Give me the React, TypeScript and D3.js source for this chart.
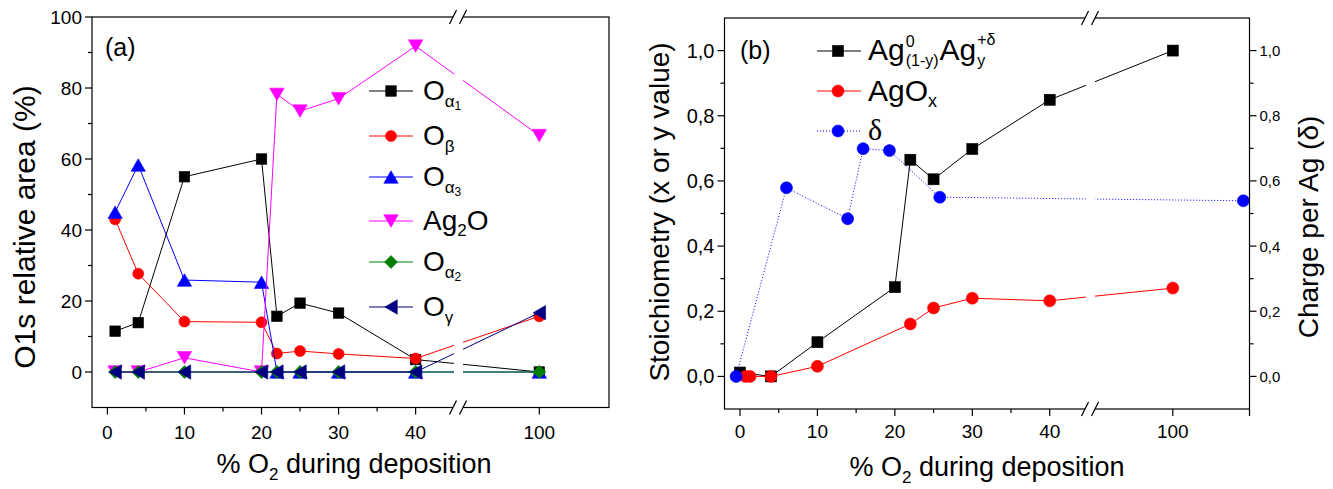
import React from "react";
import * as d3 from "d3";

const W = 1333;
const H = 489;
const FONT = "'Liberation Sans', Arial, Helvetica, sans-serif";
const SERIF = "'Liberation Serif', 'Times New Roman', serif";

// ---------- Panel (a) data ----------
const xA = [1, 4, 10, 20, 22, 25, 30, 40, 100];
const oAlpha1 = [11.5, 13.9, 55, 60, 15.7, 19.4, 16.6, 3.5, 0];
const oBeta = [43, 27.7, 14.2, 14, 5.2, 5.9, 5.1, 3.8, 15.7];
const oAlpha3 = [45, 58.3, 25.9, 25.3, 0, 0, 0, 0, 0];
const ag2o = [0, 0, 4, 0, 78.2, 73.5, 77, 91.8, 66.6];
const oAlpha2 = [0, 0, 0, 0, 0, 0, 0, 0, 0];
const oGamma = [0, 0, 0, 0, 0, 0, 0, 0, 16.7];

const aYMajor = [0, 20, 40, 60, 80, 100];
const aYMinor = [10, 30, 50, 70, 90];
const aXMajor = [0, 10, 20, 30, 40, 100];
const aXMinor = [5, 15, 25, 35];

// ---------- Panel (b) data ----------
const xStoich = [0, 4, 10, 20, 22, 25, 30, 40, 100];
const stoichY = [0.012, 0, 0.105, 0.274, 0.665, 0.605, 0.698, 0.849, 1.0];
const xAgOx = [0.7, 1.3, 4, 10, 22, 25, 30, 40, 100];
const agOxX = [0, 0, 0, 0.031, 0.161, 0.21, 0.24, 0.232, 0.271];
const xDelta = [-0.5, 6, 13.9, 15.9, 19.3, 25.8, 109.2];
const deltaY = [0, 0.579, 0.484, 0.699, 0.693, 0.55, 0.539];

const bYMajor = [0, 0.2, 0.4, 0.6, 0.8, 1.0];
const bYMinor = [0.1, 0.3, 0.5, 0.7, 0.9];
const bXMajor = [0, 10, 20, 30, 40, 100, 110];
const bXLabels = ["0", "10", "20", "30", "40", "100", ""];
const bXMinor = [5, 15, 25, 35];

// axis ranges (segments split by the axis break)
const xDomA = [-2, 45.5, 89.5, 109];
const yDomA = [-10, 100];
const xDomB = [-2, 45.2, 89.2, 110];
const yDomB = [-0.1, 1.1];

const geoA = { left: 92, right: 609, top: 17, bottom: 407.5, bx: 458 };
const geoB = { left: 724.5, right: 1249.5, top: 18, bottom: 409, bx: 1090 };

const xA_s = d3.scaleLinear().domain(xDomA).range([geoA.left, geoA.bx, geoA.bx, geoA.right]);
const yA_s = d3.scaleLinear().domain(yDomA).range([geoA.bottom, geoA.top]);
const xB_s = d3.scaleLinear().domain(xDomB).range([geoB.left, geoB.bx, geoB.bx, geoB.right]);
const yB_s = d3.scaleLinear().domain(yDomB).range([geoB.bottom, geoB.top]);

let _ctx: CanvasRenderingContext2D | null = null;
function measure(text: string, size: number, family = FONT) {
  if (!_ctx) _ctx = document.createElement("canvas").getContext("2d");
  if (!_ctx) return text.length * size * 0.55;
  _ctx.font = `${size}px ${family}`;
  return _ctx.measureText(text).width;
}

type Shape = "square" | "circle" | "triUp" | "triDown" | "triLeft" | "diamond";

function Marker({ shape, x, y, color, size }: { shape: Shape; x: number; y: number; color: string; size: number }) {
  const s = size;
  const common = { fill: color, stroke: color, strokeWidth: 0.6 };
  switch (shape) {
    case "square":
      return <rect x={x - s / 2} y={y - s / 2} width={s} height={s} {...common} />;
    case "circle":
      return <circle cx={x} cy={y} r={s / 2} {...common} />;
    case "triUp": {
      const w = s * 1.15, h = s;
      return <polygon points={`${x},${y - h / 2} ${x + w / 2},${y + h / 2} ${x - w / 2},${y + h / 2}`} {...common} />;
    }
    case "triDown": {
      const w = s * 1.15, h = s;
      return <polygon points={`${x - w / 2},${y - h / 2} ${x + w / 2},${y - h / 2} ${x},${y + h / 2}`} {...common} />;
    }
    case "triLeft": {
      const w = s, h = s * 1.15;
      return <polygon points={`${x - w / 2},${y} ${x + w / 2},${y - h / 2} ${x + w / 2},${y + h / 2}`} {...common} />;
    }
    case "diamond": {
      const d = s / 2;
      return <polygon points={`${x},${y - d} ${x + d},${y} ${x},${y + d} ${x - d},${y}`} {...common} />;
    }
  }
  return null;
}

type Series = { xs: number[]; ys: number[]; color: string; shape: Shape; size: number; dash?: string };

function SeriesG({ s, xs, ys, clip }: { s: Series; xs: any; ys: any; clip: string }) {
  const pts: [number, number][] = s.xs.map((x, i) => [xs(x), ys(s.ys[i])]);
  const path = d3.line()(pts) || "";
  return (
    <g>
      <path d={path} fill="none" stroke={s.color} strokeWidth={1} strokeDasharray={s.dash} clipPath={`url(#${clip})`} />
      {pts.map((p, i) => (
        <Marker key={i} shape={s.shape} x={p[0]} y={p[1]} color={s.color} size={s.size} />
      ))}
    </g>
  );
}

function BreakMarks({ x, y }: { x: number; y: number }) {
  return (
    <g>
      <rect x={x - 5} y={y - 2} width={10} height={4} fill="white" />
      <line x1={x - 5 - 3.5} y1={y + 7} x2={x - 5 + 3.5} y2={y - 7} stroke="black" strokeWidth={1.2} />
      <line x1={x + 5 - 3.5} y1={y + 7} x2={x + 5 + 3.5} y2={y - 7} stroke="black" strokeWidth={1.2} />
    </g>
  );
}

function ClipDef({ id, g }: { id: string; g: typeof geoA }) {
  return (
    <clipPath id={id}>
      <rect x={g.left} y={0} width={g.bx - 4 - g.left} height={H} />
      <rect x={g.bx + 5} y={0} width={g.right - g.bx - 5} height={H} />
    </clipPath>
  );
}

const MAJ = 7;
const MIN = 4;

function LegendRowA({ y, color, shape, size, children }: any) {
  return (
    <g>
      <line x1={369} x2={413} y1={y} y2={y} stroke={color} strokeWidth={1} />
      <Marker shape={shape} x={391} y={y} color={color} size={size} />
      <text x={423} y={y + 9} fontSize={28} fontFamily={FONT} fill="black">
        {children}
      </text>
    </g>
  );
}

export default function App() {
  const seriesA: Series[] = [
    { xs: xA, ys: oAlpha1, color: "#000000", shape: "square", size: 10.5 },
    { xs: xA, ys: oBeta, color: "#ff0000", shape: "circle", size: 11 },
    { xs: xA, ys: oAlpha3, color: "#0000ff", shape: "triUp", size: 12.5 },
    { xs: xA, ys: ag2o, color: "#ff00ff", shape: "triDown", size: 12.5 },
    { xs: xA, ys: oAlpha2, color: "#008000", shape: "diamond", size: 13 },
    { xs: xA, ys: oGamma, color: "#000080", shape: "triLeft", size: 12.5 },
  ];
  const seriesB: Series[] = [
    { xs: xStoich, ys: stoichY, color: "#000000", shape: "square", size: 11 },
    { xs: xAgOx, ys: agOxX, color: "#ff0000", shape: "circle", size: 12 },
    { xs: xDelta, ys: deltaY, color: "#0000ff", shape: "circle", size: 12, dash: "1,2" },
  ];

  const fmtB = (v: number) => d3.format(".1f")(v).replace(".", ",");

  // Legend (b) row 1 layout
  const lx = 868;
  const lb1 = 60;
  const bigF = 30;
  const smallF = 16;
  const wAg = measure("Ag", bigF);
  const w0 = measure("0", smallF);
  const wSub1 = measure("(1-y)", smallF);
  const x2 = lx + wAg + 1 + Math.max(w0, wSub1) + 1;
  const wAg2 = measure("Ag", bigF);
  const x3 = x2 + wAg2 + 1;

  return (
    <svg width={W} height={H} style={{ position: "absolute", left: 0, top: 0, background: "white" }} fontFamily={FONT}>
      <defs>
        <ClipDef id="clipA" g={geoA} />
        <ClipDef id="clipB" g={geoB} />
      </defs>
      <rect x={0} y={0} width={W} height={H} fill="white" />

      {/* ================= Panel (a) ================= */}
      <g>
        {seriesA.map((s, i) => (
          <SeriesG key={i} s={s} xs={xA_s} ys={yA_s} clip="clipA" />
        ))}
        <rect x={geoA.left} y={geoA.top} width={geoA.right - geoA.left} height={geoA.bottom - geoA.top} fill="none" stroke="black" strokeWidth={1.2} />
        <BreakMarks x={geoA.bx} y={geoA.top} />
        <BreakMarks x={geoA.bx} y={geoA.bottom} />
        {aYMajor.map((v) => (
          <g key={v}>
            <line x1={geoA.left - MAJ} x2={geoA.left} y1={yA_s(v)} y2={yA_s(v)} stroke="black" strokeWidth={1.2} />
            <text x={geoA.left - 10} y={yA_s(v) + 7} textAnchor="end" fontSize={19}>{v}</text>
          </g>
        ))}
        {aYMinor.map((v) => (
          <line key={v} x1={geoA.left - MIN} x2={geoA.left} y1={yA_s(v)} y2={yA_s(v)} stroke="black" strokeWidth={1.2} />
        ))}
        {aXMajor.map((v) => (
          <g key={v}>
            <line x1={xA_s(v)} x2={xA_s(v)} y1={geoA.bottom} y2={geoA.bottom + MAJ} stroke="black" strokeWidth={1.2} />
            <text x={xA_s(v)} y={439} textAnchor="middle" fontSize={19}>{v}</text>
          </g>
        ))}
        {aXMinor.map((v) => (
          <line key={v} x1={xA_s(v)} x2={xA_s(v)} y1={geoA.bottom} y2={geoA.bottom + MIN} stroke="black" strokeWidth={1.2} />
        ))}
        <text x={354} y={473} textAnchor="middle" fontSize={27}>
          % O<tspan fontSize={17} dy={7}>2</tspan>
          <tspan dy={-7}> during deposition</tspan>
        </text>
        <text transform={`translate(35,227) rotate(-90)`} textAnchor="middle" fontSize={30}>
          O1s relative area (%)
        </text>
        <text x={105} y={56} fontSize={25}>(a)</text>

        <LegendRowA y={91} color="#000000" shape="square" size={10.5}>
          O<tspan fontSize={17} dy={7}>α</tspan><tspan fontSize={12} dy={3}>1</tspan>
        </LegendRowA>
        <LegendRowA y={136} color="#ff0000" shape="circle" size={11}>
          O<tspan fontSize={17} dy={7}>β</tspan>
        </LegendRowA>
        <LegendRowA y={177} color="#0000ff" shape="triUp" size={12.5}>
          O<tspan fontSize={17} dy={7}>α</tspan><tspan fontSize={12} dy={3}>3</tspan>
        </LegendRowA>
        <LegendRowA y={221} color="#ff00ff" shape="triDown" size={12.5}>
          Ag<tspan fontSize={17} dy={6}>2</tspan><tspan dy={-6}>O</tspan>
        </LegendRowA>
        <LegendRowA y={262} color="#008000" shape="diamond" size={13}>
          O<tspan fontSize={17} dy={7}>α</tspan><tspan fontSize={12} dy={3}>2</tspan>
        </LegendRowA>
        <LegendRowA y={307} color="#000080" shape="triLeft" size={12.5}>
          O<tspan fontSize={17} dy={7}>γ</tspan>
        </LegendRowA>
      </g>

      {/* ================= Panel (b) ================= */}
      <g>
        {seriesB.map((s, i) => (
          <SeriesG key={i} s={s} xs={xB_s} ys={yB_s} clip="clipB" />
        ))}
        <rect x={geoB.left} y={geoB.top} width={geoB.right - geoB.left} height={geoB.bottom - geoB.top} fill="none" stroke="black" strokeWidth={1.2} />
        <BreakMarks x={geoB.bx} y={geoB.top} />
        <BreakMarks x={geoB.bx} y={geoB.bottom} />
        {bYMajor.map((v) => (
          <g key={v}>
            <line x1={geoB.left - MAJ} x2={geoB.left} y1={yB_s(v)} y2={yB_s(v)} stroke="black" strokeWidth={1.2} />
            <text x={geoB.left - 10} y={yB_s(v) + 7} textAnchor="end" fontSize={20}>{fmtB(v)}</text>
            <line x1={geoB.right} x2={geoB.right + MAJ} y1={yB_s(v)} y2={yB_s(v)} stroke="black" strokeWidth={1.2} />
            <text x={geoB.right + 10} y={yB_s(v) + 5.5} textAnchor="start" fontSize={15}>{fmtB(v)}</text>
          </g>
        ))}
        {bYMinor.map((v) => (
          <g key={v}>
            <line x1={geoB.left - MIN} x2={geoB.left} y1={yB_s(v)} y2={yB_s(v)} stroke="black" strokeWidth={1.2} />
            <line x1={geoB.right} x2={geoB.right + MIN} y1={yB_s(v)} y2={yB_s(v)} stroke="black" strokeWidth={1.2} />
          </g>
        ))}
        {bXMajor.map((v, i) => (
          <g key={v}>
            <line x1={xB_s(v)} x2={xB_s(v)} y1={geoB.bottom} y2={geoB.bottom + MAJ} stroke="black" strokeWidth={1.2} />
            <text x={xB_s(v)} y={438} textAnchor="middle" fontSize={19}>{bXLabels[i]}</text>
          </g>
        ))}
        {bXMinor.map((v) => (
          <line key={v} x1={xB_s(v)} x2={xB_s(v)} y1={geoB.bottom} y2={geoB.bottom + MIN} stroke="black" strokeWidth={1.2} />
        ))}
        <text x={987} y={476} textAnchor="middle" fontSize={27}>
          % O<tspan fontSize={17} dy={7}>2</tspan>
          <tspan dy={-7}> during deposition</tspan>
        </text>
        <text transform={`translate(669,212) rotate(-90)`} textAnchor="middle" fontSize={28}>
          Stoichiometry (x or y value)
        </text>
        <text transform={`translate(1318,227) rotate(-90)`} textAnchor="middle" fontSize={28}>
          Charge per Ag (δ)
        </text>
        <text x={740} y={59} fontSize={25}>(b)</text>

        {/* legend (b) */}
        <line x1={817} x2={861} y1={51} y2={51} stroke="#000000" strokeWidth={1} />
        <Marker shape="square" x={838} y={51} color="#000000" size={11} />
        <text x={lx} y={lb1} fontSize={bigF}>Ag</text>
        <text x={lx + wAg + 1} y={lb1 - 13} fontSize={smallF}>0</text>
        <text x={lx + wAg + 1} y={lb1 + 6} fontSize={smallF}>(1-y)</text>
        <text x={x2} y={lb1} fontSize={bigF}>Ag</text>
        <text x={x3} y={lb1 - 15} fontSize={smallF}>+δ</text>
        <text x={x3} y={lb1 + 6} fontSize={smallF}>y</text>

        <line x1={817} x2={861} y1={91} y2={91} stroke="#ff0000" strokeWidth={1} />
        <Marker shape="circle" x={838} y={91} color="#ff0000" size={12} />
        <text x={lx} y={101} fontSize={bigF}>
          AgO<tspan fontSize={18} dy={6}>x</tspan>
        </text>

        <line x1={817} x2={861} y1={131} y2={131} stroke="#0000ff" strokeWidth={1} strokeDasharray="1,2" />
        <Marker shape="circle" x={838} y={131} color="#0000ff" size={12} />
        <text x={lx} y={140} fontSize={30} fontFamily={SERIF}>δ</text>
      </g>
    </svg>
  );
}
